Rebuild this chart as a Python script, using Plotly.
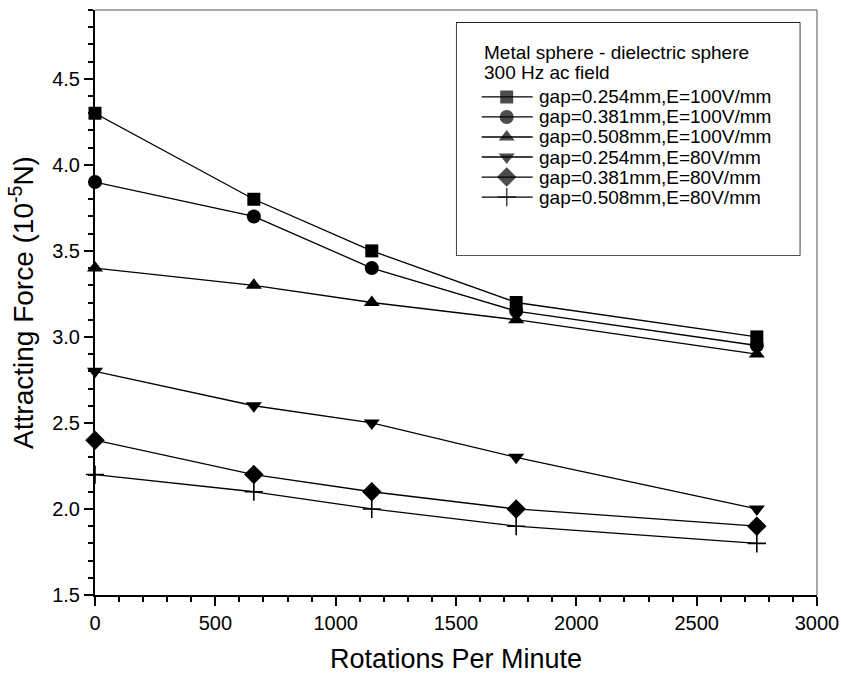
import plotly.graph_objects as go

# Rotation speed (rpm) at which the force was measured
rpm = [0, 660, 1150, 1750, 2750]

# Attracting force (10^-5 N) for each gap / field combination
force_g254_e100 = [4.3, 3.8, 3.5, 3.2, 3.0]
force_g381_e100 = [3.9, 3.7, 3.4, 3.15, 2.95]
force_g508_e100 = [3.4, 3.3, 3.2, 3.1, 2.9]
force_g254_e80 = [2.8, 2.6, 2.5, 2.3, 2.0]
force_g381_e80 = [2.4, 2.2, 2.1, 2.0, 1.9]
force_g508_e80 = [2.2, 2.1, 2.0, 1.9, 1.8]

series_names = [
    "gap=0.254mm,E=100V/mm",
    "gap=0.381mm,E=100V/mm",
    "gap=0.508mm,E=100V/mm",
    "gap=0.254mm,E=80V/mm",
    "gap=0.381mm,E=80V/mm",
    "gap=0.508mm,E=80V/mm",
]
series_values = [
    force_g254_e100,
    force_g381_e100,
    force_g508_e100,
    force_g254_e80,
    force_g381_e80,
    force_g508_e80,
]
legend_title_lines = ["Metal sphere - dielectric sphere", "300 Hz ac field"]

symbols = ["square", "circle", "triangle-up", "triangle-down", "diamond", "cross-thin"]
sizes = [13, 14, 14, 14, 15, 13]

FONT = "Liberation Sans, Arial, Helvetica, sans-serif"


def marker_style(sym, sz):
    m = dict(symbol=sym, size=sz, color="black")
    if sym == "cross-thin":
        m["line"] = dict(color="black", width=1.6)
    else:
        m["line"] = dict(color="black", width=0)
    return m


fig = go.Figure()

# Data series
for name, vals, sym, sz in zip(series_names, series_values, symbols, sizes):
    fig.add_trace(go.Scatter(
        x=rpm, y=vals, name=name, mode="lines+markers",
        line=dict(color="black", width=1.3),
        marker=marker_style(sym, sz), cliponaxis=False, showlegend=False,
    ))

# Key drawn in its own small coordinate box (units: pixels from the box's top-left)
KEY_W, KEY_H = 343, 232
key_row0, key_step = 74, 20
for i, (name, sym, sz) in enumerate(zip(series_names, symbols, sizes)):
    yrow = key_row0 + key_step * i
    ms = marker_style(sym, sz)
    ms["size"] = [0, sz, 0]
    fig.add_trace(go.Scatter(
        x=[25, 50, 76], y=[yrow] * 3, mode="lines+markers",
        line=dict(color="black", width=1.3), marker=ms,
        xaxis="x2", yaxis="y2", showlegend=False, hoverinfo="skip",
    ))
    fig.add_annotation(
        x=80, y=yrow, xref="x2", yref="y2", text=name, showarrow=False,
        xanchor="left", yanchor="middle",
        font=dict(family=FONT, size=19, color="black"),
    )
for j, line in enumerate(legend_title_lines):
    fig.add_annotation(
        x=25, y=30 + 20 * j, xref="x2", yref="y2", text=line, showarrow=False,
        xanchor="left", yanchor="middle",
        font=dict(family=FONT, size=19, color="black"),
    )

axis_common = dict(
    showgrid=False, zeroline=False, showline=True, automargin=False,
    linecolor="black", linewidth=2,
    ticks="outside", ticklen=9, tickwidth=2, tickcolor="black",
    tickfont=dict(family=FONT, size=20, color="black"),
)

fig.update_layout(
    xaxis=dict(
        range=[0, 3000], dtick=500, tick0=0,
        minor=dict(dtick=100, ticks="outside", ticklen=5, tickwidth=2, tickcolor="black"),
        title=dict(text="Rotations Per Minute",
                   font=dict(family=FONT, size=27, color="black"), standoff=16),
        **axis_common,
    ),
    yaxis=dict(
        range=[1.5, 4.9], dtick=0.5, tick0=1.5, tickformat=".1f",
        minor=dict(dtick=0.1, ticks="outside", ticklen=5, tickwidth=2, tickcolor="black"),
        title=dict(text="Attracting Force (10<sup>-5</sup>N)",
                   font=dict(family=FONT, size=28, color="black"), standoff=10),
        **axis_common,
    ),
)

# Key box position in paper coordinates
kx0, kx1 = 0.501, 0.976
ky0, ky1 = 0.581, 0.978

fig.update_layout(
    width=841, height=682,
    margin=dict(l=95, r=24, t=10, b=87),
    paper_bgcolor="white", plot_bgcolor="white",
    font=dict(family=FONT, color="black"),
    showlegend=False,
    xaxis2=dict(domain=[kx0, kx1], anchor="y2", range=[0, KEY_W], visible=False, fixedrange=True),
    yaxis2=dict(domain=[ky0, ky1], anchor="x2", range=[KEY_H, 0], visible=False, fixedrange=True),
)

# Thin frame along the top and right edges of the plot area
fig.add_shape(type="line", xref="paper", yref="paper", x0=0, y0=1, x1=1, y1=1,
              line=dict(color="#555555", width=1))
fig.add_shape(type="line", xref="paper", yref="paper", x0=1, y0=0, x1=1, y1=1,
              line=dict(color="#555555", width=1))
# Key frame
fig.add_shape(type="rect", xref="paper", yref="paper", x0=kx0, y0=ky0, x1=kx1, y1=ky1,
              line=dict(color="black", width=1.5), fillcolor="white", layer="below")

fig.write_html("out.html")
